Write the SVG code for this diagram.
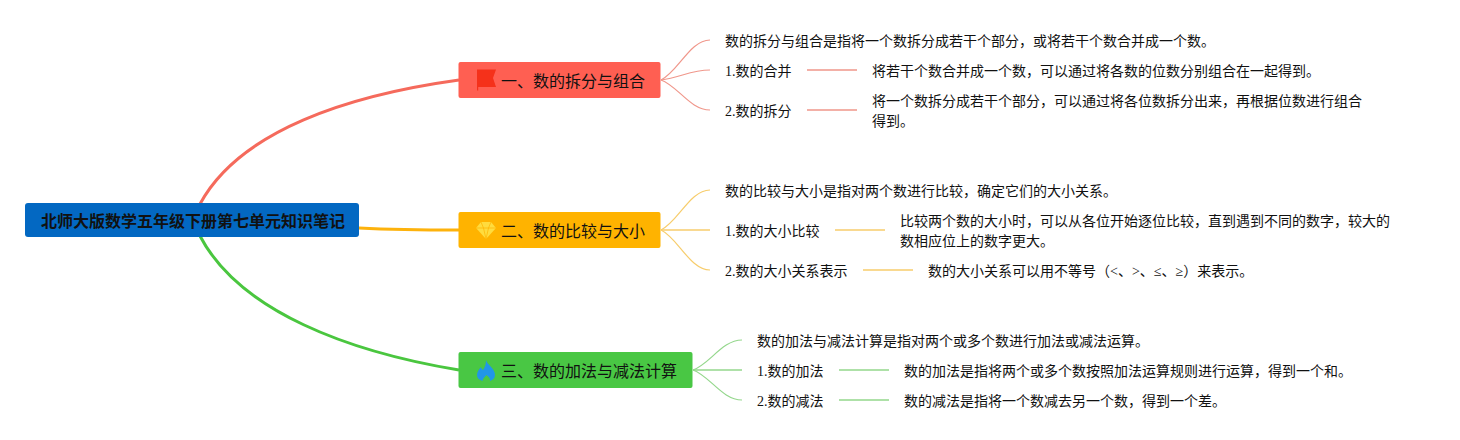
<svg xmlns="http://www.w3.org/2000/svg" width="1460" height="440" viewBox="0 0 1460 440">
<style>
text{font-family:"Liberation Serif","Noto Sans CJK SC",sans-serif;fill:#111;white-space:pre}
.d{font-size:14px}
.b{font-size:16px}
.r{font-size:16px;font-weight:bold}
.c{fill:none}
.m{stroke-width:3}
.s{stroke-width:1.200}
.l{stroke-width:1.500}
.red{stroke:#f0978b}
.yel{stroke:#f7cd6c}
.grn{stroke:#94d78c}
</style>
<rect width="1460" height="440" fill="#fff"/>
<g id="connectors" class="c">
<path class="c m" stroke="#f56a5c" d="M200 204C240 130 350 95 459 80"/>
<path class="c m" stroke="#fdb20c" d="M359 228C400 230 430 230 459 230"/>
<path class="c m" stroke="#4ac63f" d="M200 236C240 312 350 352 459 370"/>
<path class="c s red" d="M661 80C678 72 690 40 710 40"/>
<path class="c s red" d="M661 80C680 78 690 70 710 70"/>
<path class="c s red" d="M661 80C678 86 690 110 710 110"/>
<path class="c l red" d="M807 70H857M807 110H857"/>
<path class="c s yel" d="M661 230C678 222 690 190 710 190"/>
<path class="c l yel" d="M661 230H710"/>
<path class="c s yel" d="M661 230C678 238 690 270 710 270"/>
<path class="c l yel" d="M835 230H885M863 270H913"/>
<path class="c s grn" d="M693 370C710 364 722 340 742 340"/>
<path class="c l grn" d="M693 370H742"/>
<path class="c s grn" d="M693 370C710 376 722 400 742 400"/>
<path class="c l grn" d="M839 370H889M839 400H889"/>
</g>
<g id="root"><rect x="25" y="203" width="334" height="34" rx="3" fill="#0368c2"/><text class="r" x="41" y="227">北师大版数学五年级下册第七单元知识笔记</text></g>
<g id="branch1"><rect x="458.500" y="62" width="202" height="36" rx="2" fill="#ff5f52"/>
<path d="M477 69.500H496L493 78L496 87H478.200V90.500H477Z" fill="#f5311a"/>
<text class="b" x="501" y="87">一、数的拆分与组合</text></g>
<g id="branch2"><rect x="458.500" y="212" width="202" height="36" rx="2" fill="#ffb300"/>
<path d="M481 222H491L496 228L486 239L476 228Z" fill="#ffdc3e"/>
<path d="M476 228H496M481 222L483.500 228L486 239L488.500 228L491 222" fill="none" stroke="#ffb300" stroke-width=".7"/>
<text class="b" x="501" y="237">二、数的比较与大小</text></g>
<g id="branch3"><rect x="458.500" y="352" width="234" height="36" rx="2" fill="#49c744"/>
<path d="M486 360C487 365 495 368 495 375C495 378 493 380 490 381C490.500 379 489 377 486.500 375C484.500 377 482.500 379 482.500 381C479 380 477 378 477 375C477 372 479 369 481 367C481.500 369 482 369.500 483 370C485 367 486 364 486 360Z" fill="#2196e8"/>
<text class="b" x="501" y="377">三、数的加法与减法计算</text></g>
<g id="n1"><text class="d" x="725" y="46">数的拆分与组合是指将一个数拆分成若干个部分，或将若干个数合并成一个数。</text></g>
<g id="n2"><text class="d" x="725" y="76">1.数的合并</text></g>
<g id="n3"><text class="d" x="872" y="76">将若干个数合并成一个数，可以通过将各数的位数分别组合在一起得到。</text></g>
<g id="n4"><text class="d" x="725" y="116">2.数的拆分</text></g>
<g id="n5"><text class="d" x="872" y="106">将一个数拆分成若干个部分，可以通过将各位数拆分出来，再根据位数进行组合</text><text class="d" x="872" y="126">得到。</text></g>
<g id="n6"><text class="d" x="725" y="196">数的比较与大小是指对两个数进行比较，确定它们的大小关系。</text></g>
<g id="n7"><text class="d" x="725" y="236">1.数的大小比较</text></g>
<g id="n8"><text class="d" x="900" y="226">比较两个数的大小时，可以从各位开始逐位比较，直到遇到不同的数字，较大的</text><text class="d" x="900" y="246">数相应位上的数字更大。</text></g>
<g id="n9"><text class="d" x="725" y="276">2.数的大小关系表示</text></g>
<g id="n10"><text class="d" x="928" y="276">数的大小关系可以用不等号（&lt;、&gt;、≤、≥）来表示。</text></g>
<g id="n11"><text class="d" x="757" y="346">数的加法与减法计算是指对两个或多个数进行加法或减法运算。</text></g>
<g id="n12"><text class="d" x="757" y="376">1.数的加法</text></g>
<g id="n13"><text class="d" x="904" y="376">数的加法是指将两个或多个数按照加法运算规则进行运算，得到一个和。</text></g>
<g id="n14"><text class="d" x="757" y="406">2.数的减法</text></g>
<g id="n15"><text class="d" x="904" y="406">数的减法是指将一个数减去另一个数，得到一个差。</text></g>
</svg>
